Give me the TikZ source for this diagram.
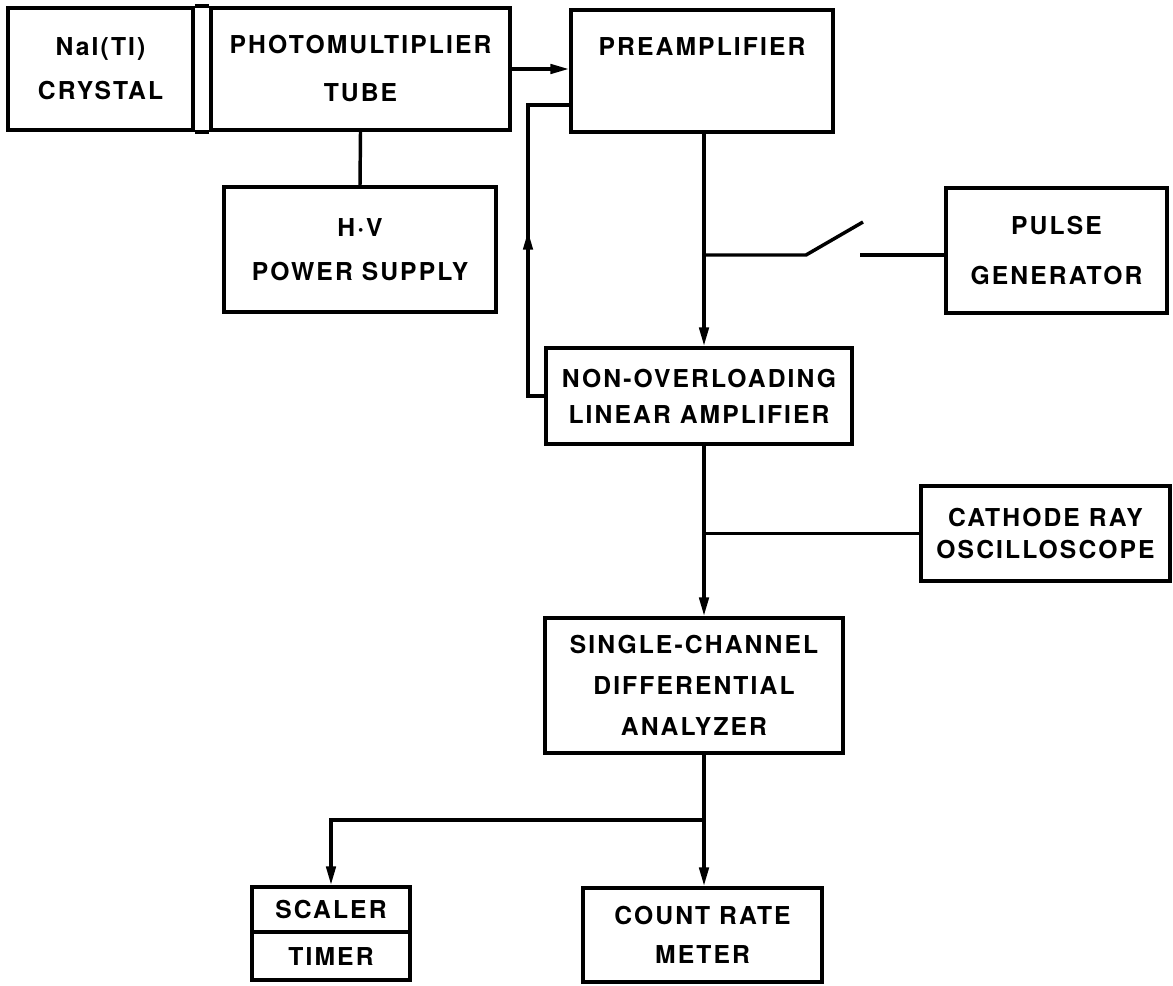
\documentclass[tikz,border=0pt]{standalone}
\usepackage{fontspec}
\setmainfont{TeX Gyre Heros}[LetterSpace=8.5]
\usetikzlibrary{arrows.meta,decorations.markings}
\newdimen\pxu \pxu=0.75pt
\tikzset{
 box/.style={draw, line width=2.8pt, inner sep=0pt, align=center, font=\bfseries\fontsize{18.5}{33}\selectfont},
 lbl/.style={inner sep=0pt, font=\bfseries\fontsize{18.5}{33}\selectfont},
 conn/.style={line width=2.6pt},
 tip/.style={-{Triangle[length=14pt,width=7pt]}},
 arr/.style={conn, tip},
 midarrow/.style={postaction={decorate}, decoration={markings, mark=at position #1 with {\arrow{Triangle[length=14pt,width=7pt]}}}},
}
\begin{document}
\begin{tikzpicture}[x=0.75pt,y=-0.75pt]
\useasboundingbox (0,0) rectangle (1173,985);
% nodes
\node[box, minimum width=185\pxu, minimum height=122\pxu] (nai) at (100.5,69) {NaI(TI)\\CRYSTAL};
\node[box, minimum width=299\pxu, minimum height=122\pxu, font=\bfseries\fontsize{18.5}{36}\selectfont] (pmt) at (360.5,69) {PHOTOMULTIPLIER\\TUBE};
\node[box, minimum width=272\pxu, minimum height=125\pxu] (hv) at (360,249.5) {H·V\\POWER SUPPLY};
\node[box, minimum width=262\pxu, minimum height=122\pxu] (pre) at (702,71) {};
\node[lbl] (pretext) at (702,47) {PREAMPLIFIER};
\node[box, minimum width=221\pxu, minimum height=125\pxu, font=\bfseries\fontsize{18.5}{37}\selectfont] (pg) at (1056.5,250.5) {PULSE\\GENERATOR};
\node[box, minimum width=306\pxu, minimum height=96\pxu, font=\bfseries\fontsize{18.5}{27}\selectfont] (nol) at (699,396) {NON-OVERLOADING\\LINEAR AMPLIFIER};
\node[box, minimum width=249\pxu, minimum height=95\pxu, font=\bfseries\fontsize{18.5}{24}\selectfont] (cro) at (1045.5,533.5) {CATHODE RAY\\OSCILLOSCOPE};
\node[box, minimum width=298\pxu, minimum height=135\pxu, font=\bfseries\fontsize{18.5}{31}\selectfont] (scda) at (694,685.5) {SINGLE-CHANNEL\\DIFFERENTIAL\\ANALYZER};
\node[box, minimum width=158\pxu, minimum height=45\pxu] (scaler) at (331,909.5) {SCALER};
\node[box, minimum width=158\pxu, minimum height=48\pxu] (timer) at (331,956) {TIMER};
\node[box, minimum width=239\pxu, minimum height=94\pxu, font=\bfseries\fontsize{18.5}{29}\selectfont] (crm) at (702.5,935) {COUNT RATE\\METER};
% coordinates
\coordinate (t) at (704,0);
\coordinate (fb) at (528,105);
\coordinate (sw1) at (806,255);
\coordinate (sw2) at (863,222);
\coordinate (sw3) at (860,255);
\coordinate (br) at (704,820);
% connectors
\draw[conn] (nai.north east) -- (pmt.north west);
\draw[conn] (nai.south east) -- (pmt.south west);
\draw[arr] (pmt.east) -- (pre.west |- pmt.east);
\draw[conn] (pmt.south) -- (hv.north);
\draw[conn, midarrow=0.52] (nol.west) -| (fb) -- (fb -| pre.west);
\draw[arr] (pre.south -| t) -- (nol.north -| t);
\draw[conn] (sw1 -| t) -- (sw1) -- (sw2);
\draw[conn] (sw3) -- (sw3 -| pg.west);
\draw[arr] (nol.south -| t) -- (scda.north -| t);
\draw[conn] (cro.west -| t) -- (cro.west);
\draw[arr] (scda.south -| t) -- (crm.north -| t);
\draw[arr] (br) -| (scaler.north);
\end{tikzpicture}
\end{document}
